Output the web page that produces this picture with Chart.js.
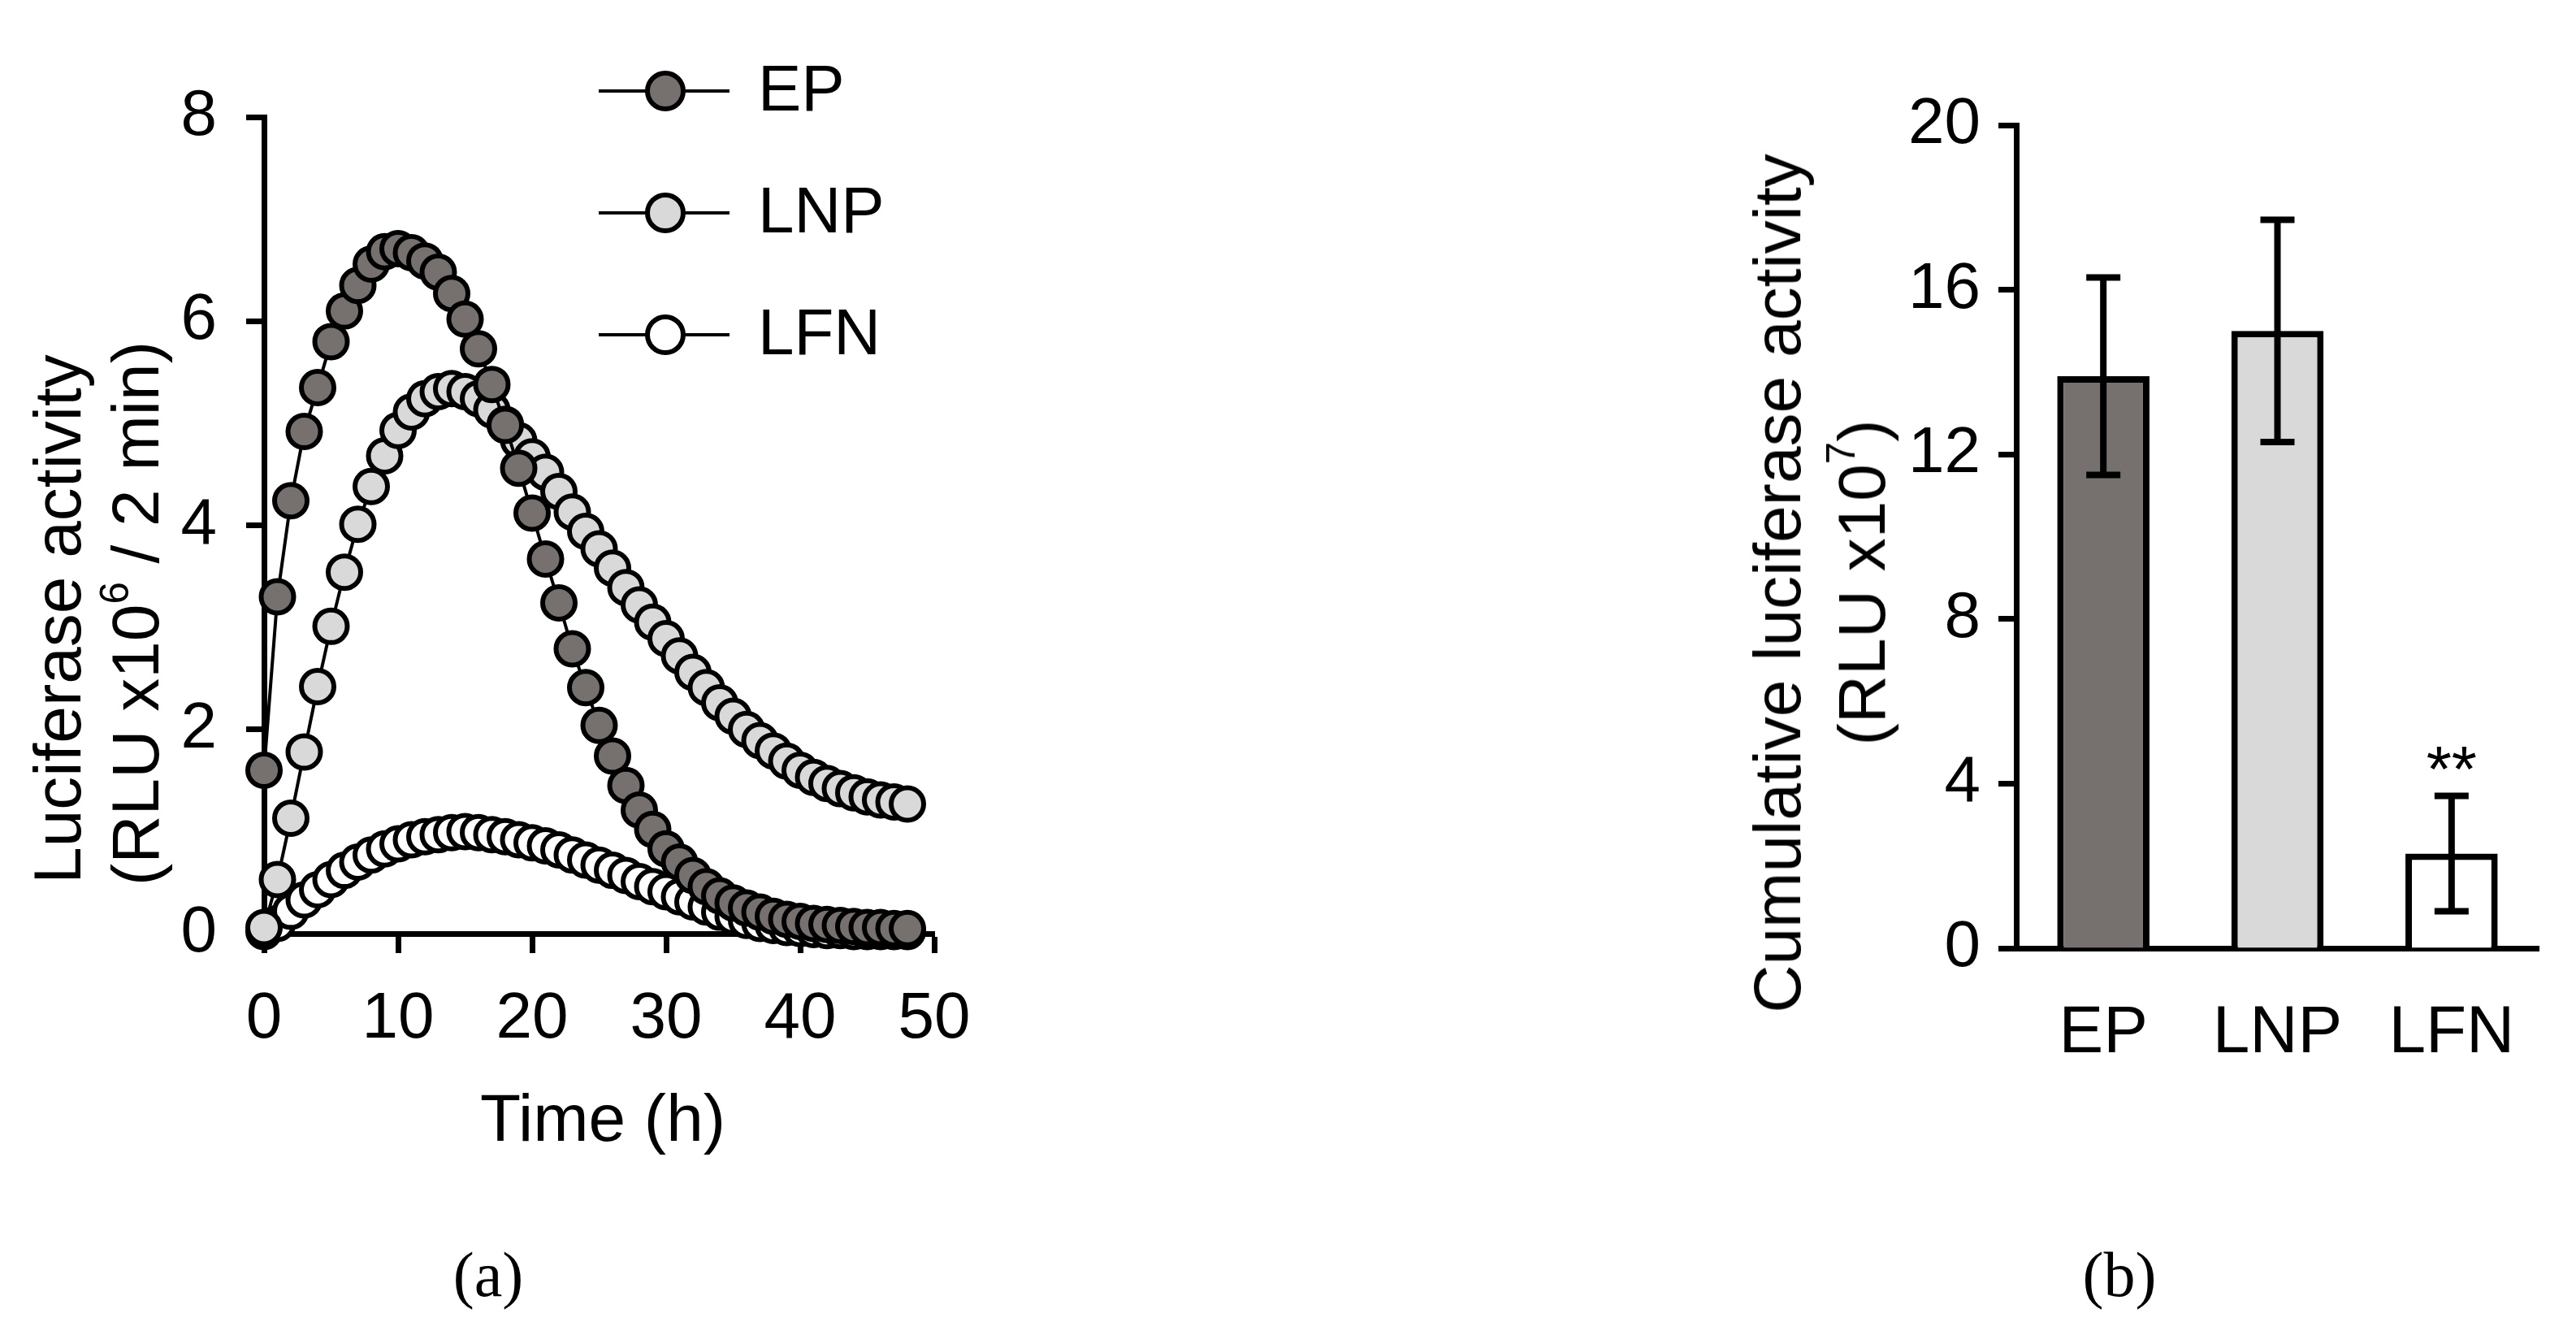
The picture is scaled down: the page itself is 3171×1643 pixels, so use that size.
<!DOCTYPE html>
<html>
<head>
<meta charset="utf-8">
<title>Luciferase activity</title>
<script src="https://cdn.jsdelivr.net/npm/chart.js@4.4.1/dist/chart.umd.min.js"></script>
<style>
  html, body { margin: 0; padding: 0; background: #fff; }
  body { width: 3171px; height: 1643px; position: relative; overflow: hidden;
         font-family: "Liberation Sans", Arial, sans-serif; color: #000; }
  .panel { position: absolute; top: 0; width: 1300px; height: 1643px; }
  .label { position: absolute; white-space: nowrap; transform: translate(-50%, -50%);
           font-size: 82px; line-height: 1; }
  .vlabel { transform: translate(-50%, -50%) rotate(-90deg); }
  .tag { font-family: "Liberation Serif", "Times New Roman", serif; font-size: 78px; }
  sup { font-size: 0.6em; line-height: 0; vertical-align: 0.75em; }
</style>
</head>
<body>

<div class="panel" style="left:0px"><canvas id="timeChart" width="1300" height="1643"></canvas></div>
<div class="panel" style="left:1871px"><canvas id="totalChart" width="1300" height="1643"></canvas></div>

<div class="label vlabel" style="left:71px; top:762px">Luciferase activity</div>
<div class="label vlabel" style="left:167px; top:755px">(RLU x10<sup>6</sup> / 2 min)</div>
<div class="label" style="left:742px; top:1376px">Time (h)</div>
<div class="label tag" style="left:601px; top:1569px">(a)</div>

<div class="label vlabel" style="left:2188px; top:718px">Cumulative luciferase activity</div>
<div class="label vlabel" style="left:2292px; top:717px">(RLU x10<sup>7</sup>)</div>
<div class="label tag" style="left:2609px; top:1569px">(b)</div>

<script>
// panel (a): luciferase activity over time, x10^6 RLU / 2 min
const hours = [0, 1, 2, 3, 4, 5, 6, 7, 8, 9, 10, 11, 12, 13, 14, 15, 16, 17, 18, 19, 20,
  21, 22, 23, 24, 25, 26, 27, 28, 29, 30, 31, 32, 33, 34, 35, 36, 37, 38, 39, 40,
  41, 42, 43, 44, 45, 46, 47, 48];
const epSeries = [1.6, 3.3, 4.24, 4.92, 5.35, 5.8, 6.1, 6.35, 6.56, 6.68, 6.71,
  6.67, 6.59, 6.48, 6.27, 6.02, 5.73, 5.38, 4.98, 4.56, 4.12,
  3.67, 3.24, 2.79, 2.41, 2.04, 1.74, 1.45, 1.21, 1.02, 0.83,
  0.7, 0.57, 0.46, 0.37, 0.3, 0.25, 0.21, 0.17, 0.14, 0.12,
  0.1, 0.09, 0.08, 0.07, 0.06, 0.06, 0.05, 0.05];
const lnpSeries = [0.06, 0.53, 1.13, 1.78, 2.42, 3.01, 3.54, 4.01, 4.38, 4.68, 4.93,
  5.11, 5.24, 5.31, 5.34, 5.31, 5.24, 5.13, 4.99, 4.83, 4.67,
  4.52, 4.33, 4.13, 3.94, 3.77, 3.58, 3.39, 3.22, 3.05, 2.89,
  2.72, 2.56, 2.41, 2.26, 2.13, 2.0, 1.89, 1.79, 1.69, 1.6,
  1.53, 1.47, 1.42, 1.38, 1.34, 1.31, 1.29, 1.27];
const lfnSeries = [0.02, 0.1, 0.22, 0.33, 0.43, 0.53, 0.62, 0.7, 0.77, 0.83, 0.88,
  0.92, 0.95, 0.97, 0.99, 1.0, 0.99, 0.97, 0.95, 0.92, 0.89,
  0.86, 0.82, 0.77, 0.72, 0.67, 0.62, 0.57, 0.51, 0.46, 0.41,
  0.36, 0.31, 0.26, 0.21, 0.17, 0.13, 0.1, 0.08, 0.06, 0.05,
  0.04, 0.03, 0.03, 0.02, 0.02, 0.02, 0.02, 0.02];
const seriesNames = ["EP", "LNP", "LFN"];
const seriesFills = ["#76716f", "#d9d9d9", "#ffffff"];

// panel (b): cumulative activity, x10^7 RLU
const groups = ["EP", "LNP", "LFN"];
const cumulative = [13.9, 15.0, 2.3];
const cumulativeErr = [2.4, 2.7, 1.4];
const sigMarks = ["", "", "**"];

const fontFamily = '"Liberation Sans", Arial, sans-serif';
Chart.defaults.font.family = fontFamily;
Chart.defaults.color = "#000";

// legend drawn over the top right of the plot, line through marker like the original
const lineLegend = {
  id: "lineLegend",
  afterDraw(chart) {
    const ctx = chart.ctx;
    const area = chart.chartArea;
    chart.data.datasets.forEach(function (ds, i) {
      let cy = area.top - 32 + i * 150;
      let x0 = area.right - 413;
      ctx.save();
      ctx.strokeStyle = "#000";
      ctx.lineWidth = 4;
      ctx.beginPath();
      ctx.moveTo(x0, cy);
      ctx.lineTo(x0 + 161, cy);
      ctx.stroke();
      ctx.beginPath();
      ctx.arc(x0 + 82, cy, 22, 0, Math.PI * 2);
      ctx.fillStyle = ds.pointBackgroundColor;
      ctx.fill();
      ctx.lineWidth = 6;
      ctx.stroke();
      ctx.fillStyle = "#000";
      ctx.font = "80px " + fontFamily;
      ctx.textBaseline = "middle";
      ctx.fillText(ds.label, x0 + 196, cy + 2);
      ctx.restore();
    });
  },
};

const errorBars = {
  id: "errorBars",
  afterDatasetsDraw(chart) {
    const ctx = chart.ctx;
    const yScale = chart.scales.y;
    const meta = chart.getDatasetMeta(0);
    ctx.save();
    ctx.strokeStyle = "#000";
    ctx.lineWidth = 8;
    meta.data.forEach(function (bar, i) {
      let top = yScale.getPixelForValue(cumulative[i] + cumulativeErr[i]);
      let bottom = yScale.getPixelForValue(cumulative[i] - cumulativeErr[i]);
      ctx.beginPath();
      ctx.moveTo(bar.x, top);
      ctx.lineTo(bar.x, bottom);
      ctx.moveTo(bar.x - 21, top);
      ctx.lineTo(bar.x + 21, top);
      ctx.moveTo(bar.x - 21, bottom);
      ctx.lineTo(bar.x + 21, bottom);
      ctx.stroke();
      if (sigMarks[i]) {
        ctx.fillStyle = "#000";
        ctx.font = "80px " + fontFamily;
        ctx.textAlign = "center";
        ctx.textBaseline = "alphabetic";
        ctx.fillText(sigMarks[i], bar.x, top - 6);
      }
    });
    ctx.restore();
  },
};

let timeDatasets = [epSeries, lnpSeries, lfnSeries].map(function (values, i) {
  return {
    label: seriesNames[i],
    data: hours.map(function (h, k) {
      return { x: h, y: values[k] };
    }),
    showLine: true,
    borderColor: "#000",
    borderWidth: 4,
    pointRadius: 20,
    pointBorderWidth: 6,
    pointBorderColor: "#000",
    pointBackgroundColor: seriesFills[i],
    clip: false,
  };
});

new Chart(document.getElementById("timeChart"), {
  type: "line",
  data: { datasets: timeDatasets },
  options: {
    responsive: false,
    animation: false,
    events: [],
    layout: { padding: { left: 0, top: 144, right: 150, bottom: 234 } },
    plugins: { legend: { display: false }, tooltip: { enabled: false } },
    scales: {
      x: {
        type: "linear",
        min: 0,
        max: 50,
        ticks: { stepSize: 10, font: { size: 80 }, color: "#000", padding: 34, maxRotation: 0 },
        grid: { drawOnChartArea: false, drawTicks: true, tickLength: 24, tickWidth: 7, tickColor: "#000" },
        border: { display: true, width: 7, color: "#000" },
        afterFit: function (scale) { scale.height = 260; },
      },
      y: {
        min: 0,
        max: 8,
        ticks: { stepSize: 2, font: { size: 80 }, color: "#000", padding: 36 },
        grid: { drawOnChartArea: false, drawTicks: true, tickLength: 22, tickWidth: 7, tickColor: "#000" },
        border: { display: true, width: 7, color: "#000" },
        afterFit: function (scale) { scale.width = 325; },
      },
    },
  },
  plugins: [lineLegend],
});

new Chart(document.getElementById("totalChart"), {
  type: "bar",
  data: {
    labels: groups,
    datasets: [
      {
        label: "Cumulative luciferase activity",
        data: cumulative,
        backgroundColor: seriesFills,
        borderColor: "#000",
        borderWidth: 8,
        categoryPercentage: 1.0,
        barPercentage: 0.53,
      },
    ],
  },
  options: {
    responsive: false,
    animation: false,
    events: [],
    layout: { padding: { left: 0, top: 154, right: 46, bottom: 276 } },
    plugins: { legend: { display: false }, tooltip: { enabled: false } },
    scales: {
      x: {
        offset: true,
        ticks: { font: { size: 82 }, color: "#000", padding: 56 },
        grid: { display: false, drawTicks: false },
        border: { display: true, width: 7, color: "#000" },
        afterFit: function (scale) { scale.height = 200; },
      },
      y: {
        min: 0,
        max: 20,
        ticks: { stepSize: 4, font: { size: 80 }, color: "#000", padding: 22 },
        grid: { drawOnChartArea: false, drawTicks: true, tickLength: 22, tickWidth: 7, tickColor: "#000" },
        border: { display: true, width: 7, color: "#000" },
        afterFit: function (scale) { scale.width = 611; },
      },
    },
  },
  plugins: [errorBars],
});
</script>
</body>
</html>
